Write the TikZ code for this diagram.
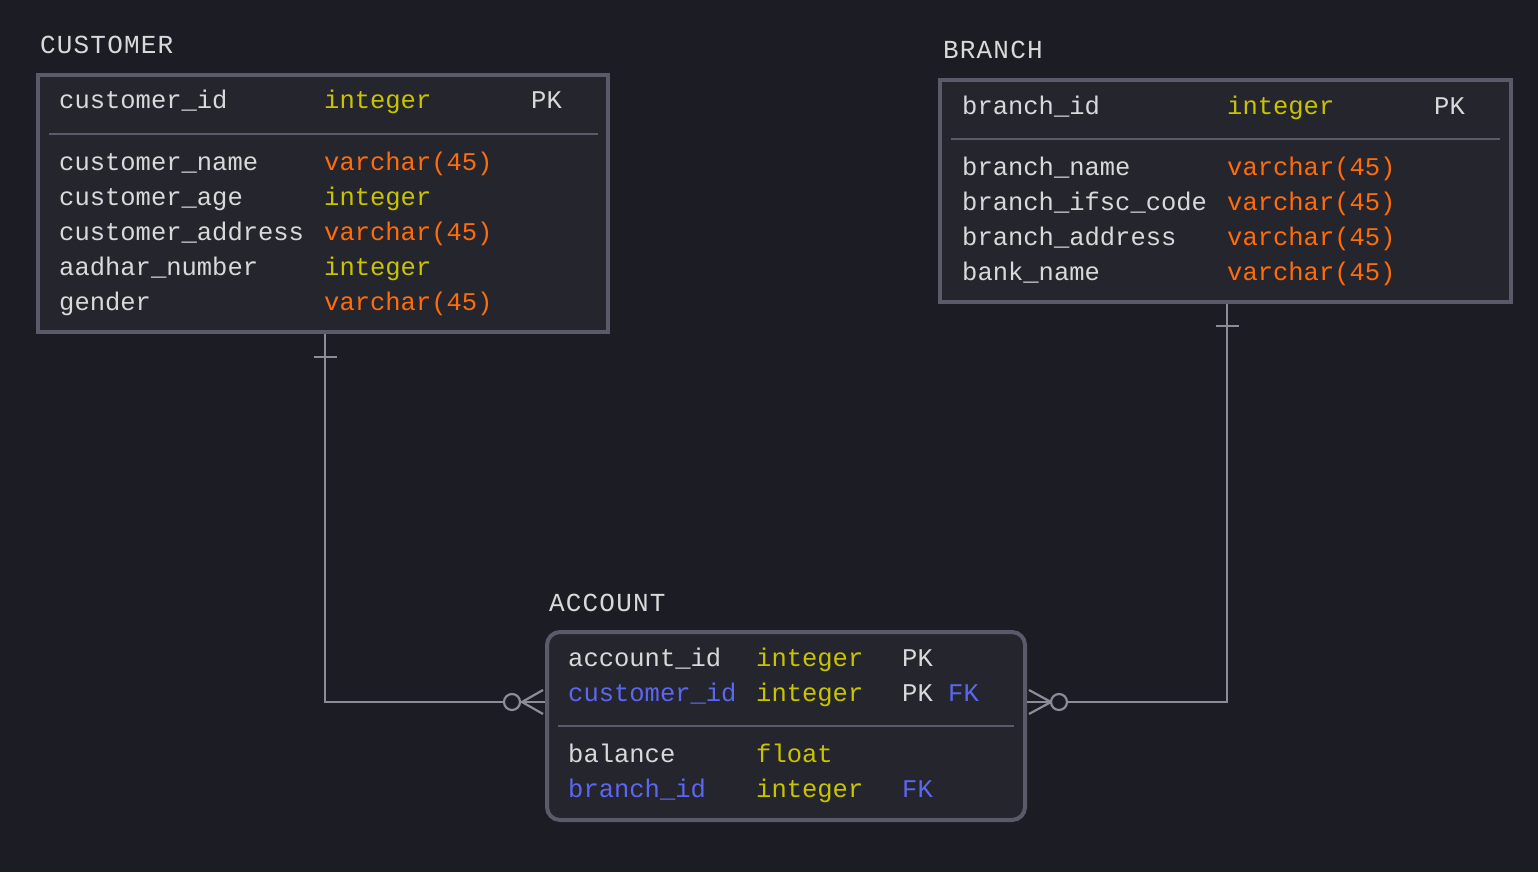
\documentclass[tikz,border=0pt]{standalone}
\usepackage{fontspec}
\newfontfamily\bodyf{Liberation Mono}
\newfontfamily\titlef[LetterSpace=4.5]{Liberation Mono}
\definecolor{bg}{HTML}{1C1C24}
\definecolor{boxfill}{HTML}{25252E}
\definecolor{boxline}{HTML}{5A5A6B}
\definecolor{txt}{HTML}{D9D9D9}
\definecolor{yel}{HTML}{C8C400}
\definecolor{org}{HTML}{FF6C0A}
\definecolor{blu}{HTML}{5B67F0}
\definecolor{conn}{HTML}{8C8C98}
\begin{document}
\begin{tikzpicture}[x=1pt,y=-1pt,
  tbl/.style={draw=boxline,fill=boxfill,line width=4pt,inner sep=0pt},
  sep/.style={draw=boxline,line width=2pt},
  lbl/.style={anchor=base west,inner sep=0pt,text=txt,font=\bodyf\fontsize{25.5}{25.5}\selectfont},
  ttl/.style={anchor=base west,inner sep=0pt,text=txt,font=\titlef\fontsize{26}{26}\selectfont},
  cn/.style={draw=conn,line width=2.2pt},
]
\useasboundingbox[fill=bg] (0,0) rectangle (1538,872);

% CUSTOMER
\node[tbl,minimum width=570pt,minimum height=257pt] (customer) at (323,203.5) {};
\node[ttl] (ctitle) at (40,54) {CUSTOMER};
\draw[sep] (49,134) -- (598,134);
\node[lbl] (c1a) at (59,109) {customer\_id};
\node[lbl,text=yel] (c1b) at (324,109) {integer};
\node[lbl] (c1c) at (531,109) {PK};
\node[lbl] (c2a) at (59,170) {customer\_name};
\node[lbl,text=org] (c2b) at (324,170) {varchar(45)};
\node[lbl] (c3a) at (59,205) {customer\_age};
\node[lbl,text=yel] (c3b) at (324,205) {integer};
\node[lbl] (c4a) at (59,240) {customer\_address};
\node[lbl,text=org] (c4b) at (324,240) {varchar(45)};
\node[lbl] (c5a) at (59,275) {aadhar\_number};
\node[lbl,text=yel] (c5b) at (324,275) {integer};
\node[lbl] (c6a) at (59,310) {gender};
\node[lbl,text=org] (c6b) at (324,310) {varchar(45)};

% BRANCH
\node[tbl,minimum width=571pt,minimum height=222pt] (branch) at (1225.5,191) {};
\node[ttl] (btitle) at (943,59) {BRANCH};
\draw[sep] (951,139) -- (1500,139);
\node[lbl] (b1a) at (962,114) {branch\_id};
\node[lbl,text=yel] (b1b) at (1227,114) {integer};
\node[lbl] (b1c) at (1434,114) {PK};
\node[lbl] (b2a) at (962,175) {branch\_name};
\node[lbl,text=org] (b2b) at (1227,175) {varchar(45)};
\node[lbl] (b3a) at (962,210) {branch\_ifsc\_code};
\node[lbl,text=org] (b3b) at (1227,210) {varchar(45)};
\node[lbl] (b4a) at (962,245) {branch\_address};
\node[lbl,text=org] (b4b) at (1227,245) {varchar(45)};
\node[lbl] (b5a) at (962,280) {bank\_name};
\node[lbl,text=org] (b5b) at (1227,280) {varchar(45)};

% ACCOUNT
\node[tbl,rounded corners=13pt,minimum width=478pt,minimum height=188pt] (account) at (786,726) {};
\node[ttl] (atitle) at (549,611) {ACCOUNT};
\draw[sep] (558,726) -- (1014,726);
\node[lbl] (a1a) at (568,666) {account\_id};
\node[lbl,text=yel] (a1b) at (756,666) {integer};
\node[lbl] (a1c) at (902,666) {PK};
\node[lbl,text=blu] (a2a) at (568,701) {customer\_id};
\node[lbl,text=yel] (a2b) at (756,701) {integer};
\node[lbl] (a2c) at (902,701) {PK};
\node[lbl,text=blu] (a2d) at (948,701) {FK};
\node[lbl] (a3a) at (568,762) {balance};
\node[lbl,text=yel] (a3b) at (756,762) {float};
\node[lbl,text=blu] (a4a) at (568,797) {branch\_id};
\node[lbl,text=yel] (a4b) at (756,797) {integer};
\node[lbl,text=blu] (a4c) at (902,797) {FK};

% connectors
\draw[cn] ([xshift=2pt]customer.south) |- ([yshift=24pt]account.west);
\draw[cn] (314,357) -- (337,357);
\draw[cn] (543,690) -- (522,702) -- (543,714);
\draw[cn,fill=bg] (512,702) circle (8);

\draw[cn] ([yshift=24pt]account.east) -| ([xshift=1.5pt]branch.south);
\draw[cn] (1216,326) -- (1239,326);
\draw[cn] (1029,690) -- (1051,702) -- (1029,714);
\draw[cn,fill=bg] (1059,702) circle (8);
\end{tikzpicture}
\end{document}
